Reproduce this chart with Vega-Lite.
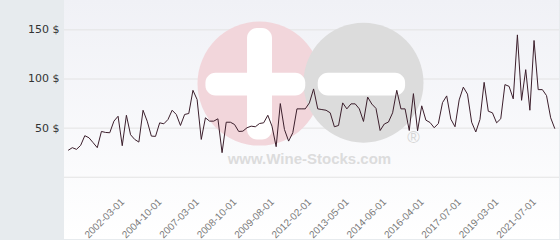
{
  "$schema": "https://vega.github.io/schema/vega-lite/v6.json",
  "width": 560,
  "height": 240,
  "autosize": {"type": "fit", "contains": "padding"},
  "padding": 0,
  "background": "#e7ebee",
  "config": {"view": {"stroke": null}},
  "datasets": {
    "price": [
      {"d":"2000-02-01","v":27.4},{"d":"2000-04-01","v":30.1},{"d":"2000-06-01","v":28.4},{"d":"2000-08-01","v":32.4},
      {"d":"2000-10-01","v":42.3},{"d":"2000-12-01","v":40.2},{"d":"2001-02-01","v":35.2},{"d":"2001-04-01","v":30.1},
      {"d":"2001-06-01","v":46.6},{"d":"2001-08-01","v":45.6},{"d":"2001-10-01","v":45.3},{"d":"2001-12-01","v":57.1},
      {"d":"2002-01-01","v":62.1},{"d":"2002-03-01","v":32.1},{"d":"2002-07-01","v":63.1},{"d":"2002-10-01","v":43.3},
      {"d":"2003-01-01","v":38.5},{"d":"2003-05-01","v":35.8},{"d":"2003-08-01","v":68.2},{"d":"2003-11-01","v":57.1},
      {"d":"2004-03-01","v":41.9},{"d":"2004-06-01","v":41.6},{"d":"2004-10-01","v":55.4},{"d":"2005-01-01","v":54.4},
      {"d":"2005-04-01","v":58.8},{"d":"2005-07-01","v":68.2},{"d":"2005-11-01","v":63.9},{"d":"2006-02-01","v":52.7},
      {"d":"2006-05-01","v":63.9},{"d":"2006-08-01","v":64.9},{"d":"2006-11-01","v":88.5},{"d":"2007-03-01","v":79.1},
      {"d":"2007-05-01","v":38.5},{"d":"2007-07-01","v":60.5},{"d":"2007-09-01","v":57.1},{"d":"2007-11-01","v":57.1},
      {"d":"2008-01-01","v":59.5},{"d":"2008-03-01","v":25.0},{"d":"2008-05-01","v":56.0},{"d":"2008-07-01","v":56.0},
      {"d":"2008-10-01","v":53.7},{"d":"2008-11-01","v":46.6},{"d":"2008-12-01","v":46.9},{"d":"2009-01-01","v":50.4},
      {"d":"2009-02-01","v":52.0},{"d":"2009-03-01","v":51.4},{"d":"2009-04-01","v":54.7},{"d":"2009-05-01","v":55.4},
      {"d":"2009-06-01","v":63.1},{"d":"2009-08-01","v":52.0},{"d":"2009-11-01","v":31.1},{"d":"2010-02-01","v":75.0},
      {"d":"2010-05-01","v":48.6},{"d":"2010-08-01","v":36.8},{"d":"2010-11-01","v":45.3},{"d":"2011-02-01","v":69.6},
      {"d":"2011-05-01","v":69.6},{"d":"2011-09-01","v":69.6},{"d":"2012-02-01","v":75.7},{"d":"2012-04-01","v":89.9},
      {"d":"2012-06-01","v":69.6},{"d":"2012-08-01","v":68.9},{"d":"2012-09-01","v":68.2},{"d":"2012-10-01","v":65.6},
      {"d":"2012-12-01","v":51.4},{"d":"2013-01-01","v":52.7},{"d":"2013-03-01","v":75.7},{"d":"2013-05-01","v":69.6},
      {"d":"2013-06-01","v":74.7},{"d":"2013-08-01","v":74.7},{"d":"2013-09-01","v":69.6},{"d":"2013-10-01","v":56.8},
      {"d":"2013-12-01","v":81.6},{"d":"2014-01-01","v":74.5},{"d":"2014-03-01","v":70.1},{"d":"2014-04-01","v":47.6},
      {"d":"2014-06-01","v":54.2},{"d":"2014-09-01","v":56.2},{"d":"2014-11-01","v":65.6},{"d":"2015-01-01","v":88.5},
      {"d":"2015-04-01","v":69.6},{"d":"2015-06-01","v":69.6},{"d":"2015-08-01","v":47.6},{"d":"2015-11-01","v":85.1},
      {"d":"2016-01-01","v":47.3},{"d":"2016-04-01","v":72.7},{"d":"2016-05-01","v":58.1},{"d":"2016-07-01","v":55.7},
      {"d":"2016-09-01","v":50.4},{"d":"2016-10-01","v":54.7},{"d":"2016-12-01","v":76.0},{"d":"2017-01-01","v":82.8},
      {"d":"2017-03-01","v":59.1},{"d":"2017-05-01","v":51.4},{"d":"2017-07-01","v":78.7},{"d":"2017-09-01","v":91.7},
      {"d":"2017-11-01","v":84.6},{"d":"2018-01-01","v":56.0},{"d":"2018-03-01","v":46.1},{"d":"2018-06-01","v":58.8},
      {"d":"2018-08-01","v":96.6},{"d":"2018-10-01","v":67.2},{"d":"2018-12-01","v":65.6},{"d":"2019-03-01","v":55.4},
      {"d":"2019-06-01","v":59.5},{"d":"2019-09-01","v":94.3},{"d":"2019-12-01","v":92.5},{"d":"2020-03-01","v":79.8},
      {"d":"2020-06-01","v":144.9},{"d":"2020-09-01","v":78.3},{"d":"2020-12-01","v":109.5},{"d":"2021-03-01","v":68.2},
      {"d":"2021-07-01","v":139.2},{"d":"2021-09-01","v":89.2},{"d":"2021-11-01","v":89.2},{"d":"2022-01-01","v":83.1},
      {"d":"2022-03-01","v":60.5},{"d":"2022-05-01","v":49.4}
    ]
  },
  "layer": [
    {
      "data": {"values": [{}]},
      "mark": {"type": "rect", "color": {"gradient": "linear", "x1": 0, "y1": 0, "x2": 0, "y2": 1,
        "stops": [{"offset": 0, "color": "#f0f1f6"}, {"offset": 1, "color": "#ffffff"}]}},
      "encoding": {}
    },
    {
      "data": {"values": [{"g": 0}, {"g": 50}, {"g": 100}, {"g": 150}]},
      "mark": {"type": "rule", "color": "#e3e3e3", "strokeWidth": 1},
      "encoding": {
        "y": {"field": "g", "type": "quantitative", "title": null}
      }
    },
    {
      "data": {"values": [{"d": "2009-04-01", "v": 95.3}]},
      "mark": {"type": "point", "shape": "circle", "filled": true, "size": 15376, "color": "#f2d6db", "opacity": 1},
      "encoding": {
        "x": {"field": "d", "type": "ordinal", "title": null},
        "y": {"field": "v", "type": "quantitative", "title": null}
      }
    },
    {
      "data": {"values": [{"d": "2013-10-01", "v": 96.3}]},
      "mark": {"type": "point", "shape": "circle", "filled": true, "size": 14400, "color": "#dcdcdc", "opacity": 1},
      "encoding": {
        "x": {"field": "d", "type": "ordinal", "title": null},
        "y": {"field": "v", "type": "quantitative", "title": null}
      }
    },
    {
      "data": {"values": [
        {"d": "2007-07-01", "d2": "2011-09-01", "v": 106.4, "v2": 83.1},
        {"d": "2009-01-01", "d2": "2009-08-01", "v": 152, "v2": 38.5},
        {"d": "2012-06-01", "d2": "2015-06-01", "v": 106.4, "v2": 83.1}
      ]},
      "mark": {"type": "rect", "color": "#ffffff", "cornerRadius": 10},
      "encoding": {
        "x": {"field": "d", "type": "ordinal", "title": null},
        "x2": {"field": "d2"},
        "y": {"field": "v", "type": "quantitative", "title": null},
        "y2": {"field": "v2"}
      }
    },
    {
      "data": {"values": [{"d": "2012-02-01", "v": 13.2, "t": "www.Wine-Stocks.com"}]},
      "mark": {"type": "text", "font": "Liberation Sans", "fontWeight": "bold", "fontSize": 15, "color": "#dcdcdc", "align": "center", "baseline": "alphabetic"},
      "encoding": {
        "x": {"field": "d", "type": "ordinal", "title": null},
        "y": {"field": "v", "type": "quantitative", "title": null},
        "text": {"field": "t"}
      }
    },
    {
      "data": {"values": [{"d": "2015-11-01", "v": 39.5, "t": "®"}]},
      "mark": {"type": "text", "font": "Liberation Sans", "fontSize": 17, "color": "#d6d6d6", "align": "center", "baseline": "middle"},
      "encoding": {
        "x": {"field": "d", "type": "ordinal", "title": null},
        "y": {"field": "v", "type": "quantitative", "title": null},
        "text": {"field": "t"}
      }
    },
    {
      "data": {"name": "price"},
      "mark": {"type": "line", "color": "#3c1f2c", "strokeWidth": 1},
      "encoding": {
        "x": {
          "field": "d", "type": "ordinal", "title": null,
          "scale": {"type": "point", "padding": 1},
          "axis": {
            "title": null,
            "values": ["2002-03-01","2004-10-01","2007-03-01","2008-10-01","2009-08-01","2012-02-01","2013-05-01","2014-06-01","2016-04-01","2017-07-01","2019-03-01","2021-07-01"],
            "labelAngle": -45, "labelFont": "Liberation Sans", "labelFontSize": 10, "labelColor": "#7a7a7a",
            "labelOverlap": false, "domain": false, "ticks": false, "grid": false,
            "offset": -41, "labelPadding": 2, "labelDx": -2, "zindex": 2
          }
        },
        "y": {
          "field": "v", "type": "quantitative", "title": null,
          "scale": {"domain": [-62.84, 180.4], "nice": false, "zero": false},
          "axis": {
            "title": null, "values": [0, 50, 100, 150],
            "labelExpr": "datum.value == 0 ? '' : datum.value + ' $'",
            "labelFont": "DejaVu Sans", "labelFontSize": 11, "labelColor": "#333333",
            "labelPadding": 5, "minExtent": 64, "maxExtent": 64,
            "domain": false, "ticks": false, "grid": false, "zindex": 2
          }
        }
      }
    }
  ]
}
